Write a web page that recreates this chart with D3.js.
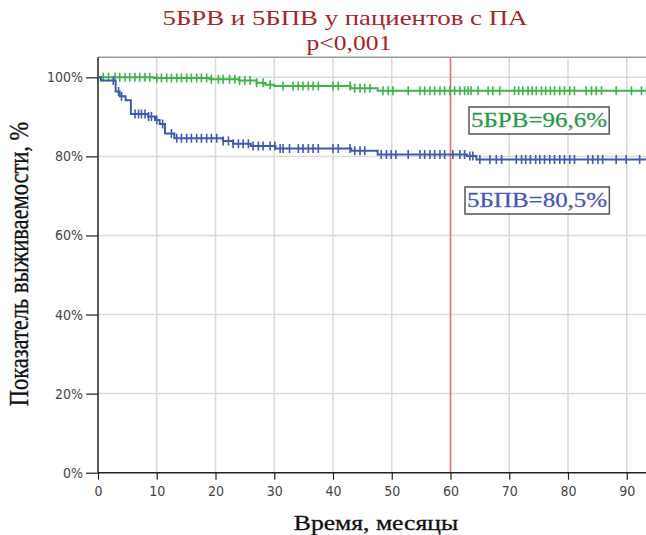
<!DOCTYPE html>
<html>
<head>
<meta charset="utf-8">
<script src="https://cdn.jsdelivr.net/npm/d3@7"></script>
<style>
  body { margin: 0; background: #fff; }
  .tick text { font-family: "DejaVu Sans Condensed", "DejaVu Sans", sans-serif; font-size: 14px; fill: #444; }
  .serif { font-family: "Liberation Serif", "Times New Roman", serif; }
</style>
</head>
<body>
<div id="chart"></div>
<script>
// survival steps (months, %)
var greenTimes = [0, 9.5, 19, 24, 27, 28.5, 30, 43, 47.6];
var greenSurv  = [100, 99.8, 99.5, 99.2, 98.6, 98.1, 97.8, 97.2, 96.6];
var blueTimes  = [0, 0.5, 3.0, 3.7, 4.7, 5.6, 8.5, 9.7, 10.5, 11.4, 13.0, 21.3, 23.0, 26.0, 30.2, 43.1, 47.6, 62.8, 64.4];
var blueSurv   = [100, 99.2, 96.4, 95.2, 94.2, 90.7, 90.1, 89.2, 88.2, 85.8, 84.6, 83.9, 83.2, 82.6, 82.0, 81.4, 80.5, 80.1, 79.2];
var followEnd = 94;

// censored observations (months)
var greenCensor = [0.9,1.8,2.9,3.7,4.6,5.4,6.3,7.1,8.0,8.8,10.0,10.8,11.7,12.5,13.4,14.2,15.1,15.9,16.8,17.6,18.5,19.3,20.5,21.3,22.4,23.3,24.1,25.0,25.9,27.0,28.1,29.3,31.5,33.2,34.1,34.9,35.8,36.6,37.5,40.0,40.9,42.9,43.7,44.6,45.4,46.3,48.5,49.4,50.2,52.8,54.8,55.6,56.5,57.3,58.2,59.0,59.9,60.7,61.6,62.4,63.0,63.5,64.7,66.4,67.2,68.4,70.9,71.6,72.3,73.2,73.9,74.6,75.5,76.2,77.0,77.7,78.6,79.4,80.3,81.1,83.1,84.0,84.8,85.7,88.2,90.8,92.5];
var blueCensor = [2.6,3.5,4.0,6.3,6.9,7.4,8.0,8.6,9.1,10.0,11.0,12.5,13.4,14.2,15.1,15.9,16.8,17.6,18.5,19.3,20.2,21.3,22.2,23.0,23.9,24.7,25.6,26.4,27.3,28.1,29.3,30.1,31.0,31.5,32.6,34.1,34.9,35.8,36.6,37.5,40.0,40.9,42.9,43.7,44.6,45.4,48.2,49.1,49.9,50.7,52.8,54.8,55.6,56.5,57.3,58.2,59.0,60.4,61.6,62.4,63.3,63.8,65.0,66.7,67.8,68.7,71.2,72.1,72.8,73.6,74.5,75.2,76.0,76.9,77.7,78.6,79.4,80.3,81.1,83.4,84.2,85.1,85.9,88.2,89.9,92.2];

var xTicks = [0, 10, 20, 30, 40, 50, 60, 70, 80, 90];
var yTicks = [0, 20, 40, 60, 80, 100];
var cutoff = 60;
var titleLines = ["5БРВ и 5БПВ у пациентов с ПА", "p<0,001"];
var labels = ["5БРВ=96,6%", "5БПВ=80,5%"];

var svgWidth = 646, svgHeight = 535;
var svg = d3.select("#chart").append("svg")
  .attr("width", svgWidth)
  .attr("height", svgHeight);

var x = d3.scaleLinear().domain([0, 100]).range([98, 98 + 587.5]);
var y = d3.scaleLinear().domain([0, 100]).range([472.7, 77.3]);
var plotTop = y(105.1), plotBottom = y(0), plotLeft = x(0), plotRight = svgWidth;

svg.append("clipPath").attr("id", "clip")
  .append("rect").attr("x", plotLeft).attr("y", plotTop - 5)
  .attr("width", plotRight - plotLeft).attr("height", plotBottom - plotTop + 10);

// grid
var grid = svg.append("g");
grid.selectAll(".vg").data(xTicks.slice(1)).enter().append("line")
  .attr("x1", d => x(d)).attr("x2", d => x(d))
  .attr("y1", plotTop).attr("y2", plotBottom)
  .attr("stroke", "#dadada").attr("stroke-width", 1.5);
grid.selectAll(".hg").data(yTicks.slice(1)).enter().append("line")
  .attr("x1", plotLeft).attr("x2", plotRight)
  .attr("y1", d => y(d)).attr("y2", d => y(d))
  .attr("stroke", "#dadada").attr("stroke-width", 1.5);
// top frame
svg.append("line").attr("x1", plotLeft).attr("x2", plotRight)
  .attr("y1", plotTop).attr("y2", plotTop)
  .attr("stroke", "#999").attr("stroke-width", 1.5);

// 60 month cutoff
svg.append("line")
  .attr("x1", x(cutoff)).attr("x2", x(cutoff))
  .attr("y1", plotTop).attr("y2", plotBottom)
  .attr("stroke", "#ec6a6a").attr("stroke-width", 1.5);

// axes
var xAxis = d3.axisBottom(x).tickValues(xTicks).tickSize(7).tickPadding(6).tickFormat(d3.format("d"));
var yAxis = d3.axisLeft(y).tickValues(yTicks).tickSize(12).tickPadding(3).tickFormat(d => d + "%");

var gx = svg.append("g").attr("transform", `translate(0, ${plotBottom})`).call(xAxis);
gx.select(".domain").attr("d", `M${plotLeft},0H${plotRight}`);
var gy = svg.append("g").attr("transform", `translate(${plotLeft}, 0)`).call(yAxis);
gy.select(".domain").attr("d", `M0,${plotTop}V${plotBottom}`);
svg.selectAll(".domain").attr("stroke", "#222").attr("stroke-width", 1.5);
svg.selectAll(".tick line").attr("stroke", "#222").attr("stroke-width", 1.2);

// survival curves
function stepSeries(times, surv) {
  var pts = times.map((t, i) => [t, surv[i]]);
  pts.push([followEnd, surv[surv.length - 1]]);
  return pts;
}
function survAt(times, surv, t) {
  var i = d3.bisectRight(times, t) - 1;
  return surv[Math.max(0, i)];
}
var line = d3.line().x(d => x(d[0])).y(d => y(d[1])).curve(d3.curveStepAfter);

var series = [
  { times: greenTimes, surv: greenSurv, cens: greenCensor, color: "#3bb54a" },
  { times: blueTimes, surv: blueSurv, cens: blueCensor, color: "#4358b3" }
];

var curves = svg.append("g").attr("clip-path", "url(#clip)");
series.forEach(function (s) {
  curves.append("path")
    .datum(stepSeries(s.times, s.surv))
    .attr("d", line)
    .attr("fill", "none")
    .attr("stroke", s.color)
    .attr("stroke-width", 2);
  curves.selectAll(null).data(s.cens).enter().append("line")
    .attr("x1", d => x(d)).attr("x2", d => x(d))
    .attr("y1", d => y(survAt(s.times, s.surv, d)) - 4.5)
    .attr("y2", d => y(survAt(s.times, s.surv, d)) + 4.5)
    .attr("stroke", s.color)
    .attr("stroke-width", 1.6);
});

// titles
svg.append("text").attr("class", "serif")
  .attr("transform", "translate(345, 25) scale(1.22, 1)")
  .attr("text-anchor", "middle")
  .attr("font-size", 22)
  .attr("fill", "#a3262a")
  .text(titleLines[0]);
svg.append("text").attr("class", "serif")
  .attr("transform", "translate(349, 50) scale(1.25, 1)")
  .attr("text-anchor", "middle")
  .attr("font-size", 20.5)
  .attr("fill", "#a3262a")
  .text(titleLines[1]);

svg.append("text").attr("class", "serif")
  .attr("transform", "translate(376, 530) scale(1.25, 1)")
  .attr("text-anchor", "middle")
  .attr("font-size", 20.5)
  .attr("fill", "#111")
  .attr("stroke", "#111").attr("stroke-width", 0.3)
  .text("Время, месяцы");

svg.append("text").attr("class", "serif")
  .attr("transform", "translate(28, 264) scale(1.25, 1) rotate(-90)")
  .attr("text-anchor", "middle")
  .attr("font-size", 22.5)
  .attr("fill", "#111")
  .attr("stroke", "#111").attr("stroke-width", 0.3)
  .text("Показатель выживаемости, %");

// annotation boxes
var boxes = [
  { text: labels[0], x: 469, y: 107, color: "#2b994a" },
  { text: labels[1], x: 465, y: 187, color: "#4557b9" }
];
boxes.forEach(function (b) {
  var g = svg.append("g");
  var rect = g.append("rect");
  var t = g.append("text").attr("class", "serif")
    .attr("transform", `translate(${b.x + 2}, ${b.y + 20}) scale(1.25, 1)`)
    .attr("font-size", 20)
    .attr("fill", b.color)
    .attr("stroke", b.color).attr("stroke-width", 0.25)
    .text(b.text);
  var w = t.node().getBBox().width * 1.25;
  rect.attr("x", b.x).attr("y", b.y)
    .attr("width", w + 4).attr("height", 27)
    .attr("fill", "#fff")
    .attr("stroke", "#555")
    .attr("stroke-width", 1.5);
});
</script>
</body>
</html>
